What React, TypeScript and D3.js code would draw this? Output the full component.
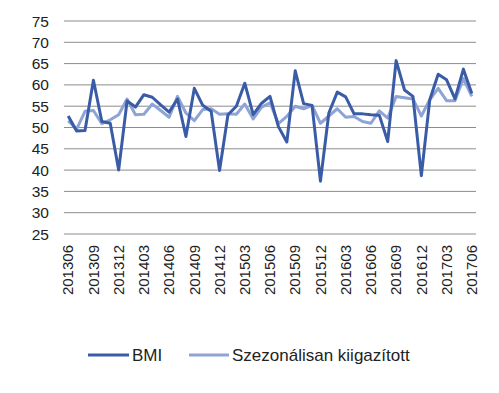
import React from "react";
import * as d3 from "d3";

const months: string[] = (() => {
  const out: string[] = [];
  for (let y = 2013; y <= 2017; y++) {
    for (let m = 1; m <= 12; m++) {
      const k = y * 100 + m;
      if (k >= 201306 && k <= 201706) out.push(String(k));
    }
  }
  return out;
})();

const bmi: number[] = [
  52.7, 49.2, 49.3, 61.1, 51.4, 51.0, 40.0, 56.2, 54.8, 57.7,
  57.1, 55.3, 53.6, 56.7, 47.9, 59.2, 55.2, 53.8, 39.9, 53.0,
  55.0, 60.4, 53.0, 55.7, 57.3, 50.2, 46.6, 63.3, 55.6, 55.2,
  37.4, 53.4, 58.3, 57.2, 53.2, 53.2, 53.0, 52.9, 46.7, 65.7,
  58.8, 57.3, 38.7, 56.5, 62.5, 61.2, 56.7, 63.7, 58.0,
];

const seasonal: number[] = [
  51.6, 49.6, 53.8, 54.0, 50.9, 51.8, 53.0, 56.7, 53.0, 53.1,
  55.5, 54.0, 52.4, 57.3, 53.4, 51.6, 54.2, 54.4, 53.1, 53.2,
  53.1, 55.5, 52.0, 54.8, 55.8, 50.9, 52.6, 55.0, 54.4, 55.2,
  51.0, 52.7, 54.4, 52.4, 52.6, 51.4, 51.0, 53.9, 52.2, 57.3,
  57.0, 56.7, 52.7, 56.5, 59.2, 56.3, 56.3, 61.5, 57.3,
];

const yTicks: number[] = [25, 30, 35, 40, 45, 50, 55, 60, 65, 70, 75];
const xTickLabels: string[] = months.filter((_, i) => i % 3 === 0);

const seriesNames = ["BMI", "Szezonálisan kiigazított"];
const colors = ["#3A5CA6", "#8EA3D6"];

export default function App() {
  const W = 499, H = 393;
  const left = 64, right = 476, top = 21, bottom = 234;
  const font = "'Liberation Sans', Arial, sans-serif";

  const x = d3.scaleBand<string>().domain(months).range([left, right]);
  const xc = (m: string) => (x(m) as number) + x.bandwidth() / 2;
  const y = d3.scaleLinear().domain([25, 75]).range([bottom, top]);

  const line = d3
    .line<number>()
    .x((_, i) => xc(months[i]))
    .y((d) => y(d));

  const data = [bmi, seasonal];

  return (
    <svg width={W} height={H} style={{ position: "absolute", left: 0, top: 0, background: "#fff" }}>
      <rect x={0} y={0} width={W} height={H} fill="#fff" />
      {yTicks.map((t) => (
        <g key={t}>
          <line x1={left} x2={right} y1={y(t)} y2={y(t)} stroke="#8c8c8c" strokeWidth={1} />
          <text x={49} y={y(t)} dy="0.36em" textAnchor="end" fontFamily={font} fontSize={15.5} fill="#222">
            {t}
          </text>
        </g>
      ))}
      {xTickLabels.map((m) => (
        <text
          key={m}
          transform={`translate(${xc(m)},${bottom + 11}) rotate(-90)`}
          textAnchor="end"
          dy="0.35em"
          fontFamily={font}
          fontSize={15}
          fill="#222"
        >
          {m}
        </text>
      ))}
      {[1, 0].map((k) => (
        <path
          key={k}
          d={line(data[k]) as string}
          fill="none"
          stroke={colors[k]}
          strokeWidth={3}
          strokeLinejoin="round"
        />
      ))}
      <g fontFamily={font} fontSize={17} fill="#222">
        <line x1={88} x2={129} y1={355} y2={355} stroke={colors[0]} strokeWidth={3} />
        <text x={132} y={355} dy="0.36em">{seriesNames[0]}</text>
        <line x1={189} x2={229} y1={355} y2={355} stroke={colors[1]} strokeWidth={3} />
        <text x={232} y={355} dy="0.36em">{seriesNames[1]}</text>
      </g>
    </svg>
  );
}
